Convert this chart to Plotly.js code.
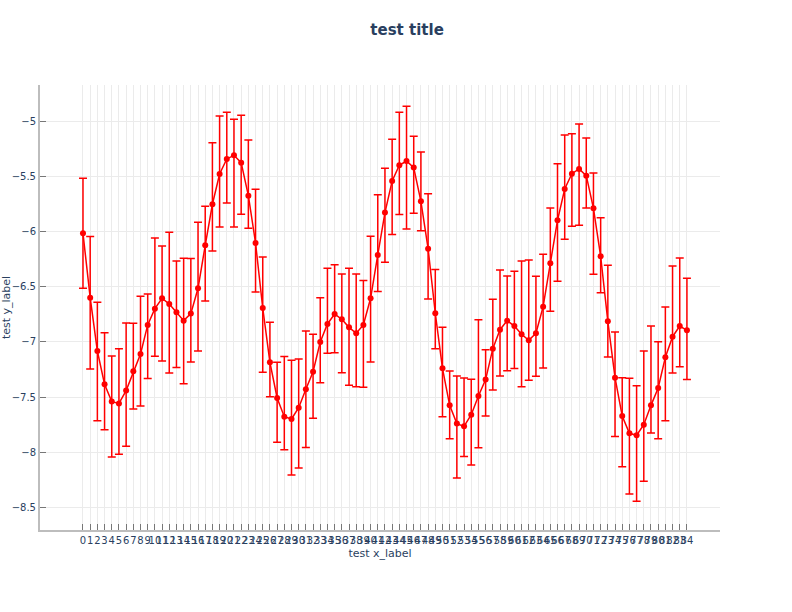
<!DOCTYPE html>
<html>
<head>
<meta charset="utf-8">
<script src="https://cdn.plot.ly/plotly-3.0.1.min.js"></script>
<style>html,body{margin:0;padding:0;background:#fff;}#chart{width:792px;height:612px;}</style>
</head>
<body>
<div id="chart"></div>
<script>
const xValues = [0,1,2,3,4,5,6,7,8,9,10,11,12,13,14,15,16,17,18,19,20,21,22,23,24,25,26,27,28,29,30,31,32,33,34,35,36,37,38,39,40,41,42,43,44,45,46,47,48,49,50,51,52,53,54,55,56,57,58,59,60,61,62,63,64,65,66,67,68,69,70,71,72,73,74,75,76,77,78,79,80,81,82,83,84];
const yValues = [-6.012,-6.597,-7.082,-7.385,-7.542,-7.558,-7.442,-7.267,-7.109,-6.845,
  -6.697,-6.603,-6.655,-6.730,-6.806,-6.742,-6.512,-6.121,-5.748,-5.473,
  -5.336,-5.303,-5.370,-5.670,-6.100,-6.691,-7.185,-7.509,-7.679,-7.700,
  -7.597,-7.430,-7.270,-7.000,-6.836,-6.745,-6.794,-6.867,-6.921,-6.845,
  -6.603,-6.209,-5.824,-5.536,-5.394,-5.355,-5.415,-5.721,-6.152,-6.739,
  -7.239,-7.576,-7.742,-7.767,-7.661,-7.491,-7.342,-7.061,-6.888,-6.806,
  -6.855,-6.930,-6.985,-6.921,-6.679,-6.285,-5.894,-5.609,-5.470,-5.427,
  -5.488,-5.785,-6.221,-6.812,-7.324,-7.673,-7.830,-7.848,-7.752,-7.576,
  -7.418,-7.139,-6.952,-6.855,-6.894];
const errorPlus = [0.500,0.555,0.443,0.470,0.415,0.497,0.615,0.437,0.524,0.281,
  0.642,0.476,0.652,0.466,0.567,0.500,0.600,0.354,0.560,0.528,
  0.424,0.327,0.431,0.506,0.488,0.464,0.364,0.324,0.546,0.533,
  0.442,0.530,0.340,0.403,0.506,0.448,0.412,0.537,0.539,0.403,
  0.564,0.548,0.403,0.378,0.482,0.497,0.285,0.448,0.500,0.397,
  0.372,0.312,0.433,0.440,0.322,0.694,0.272,0.449,0.543,0.406,
  0.497,0.666,0.730,0.518,0.476,0.503,0.515,0.491,0.364,0.409,
  0.343,0.321,0.351,0.509,0.415,0.349,0.500,0.451,0.670,0.721,
  0.421,0.457,0.643,0.619,0.473];
const errorMinus = [0.500,0.648,0.633,0.412,0.503,0.463,0.506,0.342,0.473,0.488,
  0.433,0.570,0.627,0.503,0.573,0.440,0.570,0.506,0.425,0.482,
  0.400,0.652,0.469,0.297,0.445,0.585,0.312,0.403,0.300,0.509,
  0.548,0.528,0.424,0.370,0.267,0.352,0.485,0.527,0.485,0.567,
  0.579,0.333,0.452,0.488,0.448,0.618,0.415,0.267,0.457,0.322,
  0.440,0.303,0.494,0.275,0.457,0.470,0.331,0.375,0.421,0.455,
  0.387,0.476,0.363,0.391,0.557,0.436,0.554,0.458,0.478,0.512,
  0.294,0.600,0.331,0.324,0.534,0.460,0.552,0.600,0.515,0.251,
  0.461,0.576,0.330,0.369,0.448];
const tickLabels = xValues.map(v => String(v));

const fontFamily = 'DejaVu Sans, sans-serif';
const textColor = '#2a3f5f';

const trace = {
  type: 'scatter',
  mode: 'lines+markers',
  x: xValues,
  y: yValues,
  line: {color: 'red', width: 1.5},
  marker: {color: 'red', size: 6},
  error_y: {
    type: 'data',
    symmetric: false,
    array: errorPlus,
    arrayminus: errorMinus,
    color: 'red',
    thickness: 1.5,
    width: 4
  },
  showlegend: false
};

const layout = {
  width: 792,
  height: 612,
  margin: {l: 40, r: 72, t: 85, b: 82},
  paper_bgcolor: '#ffffff',
  plot_bgcolor: '#ffffff',
  font: {family: fontFamily, size: 10, color: textColor},
  title: {
    text: '<b>test title</b>',
    font: {family: fontFamily, size: 15, color: textColor},
    x: 0.514, xref: 'container', xanchor: 'center',
    y: 0.951, yref: 'container', yanchor: 'middle'
  },
  xaxis: {
    title: {text: 'test x_label', font: {family: fontFamily, size: 11, color: textColor}, standoff: 4},
    range: [-5.98, 88.6],
    tickmode: 'array',
    tickvals: xValues,
    ticktext: tickLabels,
    tickangle: 0,
    ticks: 'inside',
    ticklen: 6,
    tickcolor: '#777777',
    tickwidth: 1,
    showline: true,
    linecolor: '#bdbdbd',
    linewidth: 2,
    showgrid: true,
    gridcolor: '#ebebeb',
    gridwidth: 1,
    zeroline: false,
    tickfont: {family: fontFamily, size: 10, color: textColor}
  },
  yaxis: {
    title: {text: 'test y_label', font: {family: fontFamily, size: 11, color: textColor}, standoff: 4},
    range: [-8.709, -4.664],
    tickmode: 'array',
    tickvals: [-8.5, -8, -7.5, -7, -6.5, -6, -5.5, -5],
    ticktext: ['\u22128.5', '\u22128', '\u22127.5', '\u22127', '\u22126.5', '\u22126', '\u22125.5', '\u22125'],
    ticks: 'inside',
    ticklen: 6,
    tickcolor: '#777777',
    tickwidth: 1,
    showline: true,
    linecolor: '#bdbdbd',
    linewidth: 2,
    showgrid: true,
    gridcolor: '#ebebeb',
    gridwidth: 1,
    zeroline: false,
    tickfont: {family: fontFamily, size: 10, color: textColor}
  }
};

Plotly.newPlot('chart', [trace], layout, {displayModeBar: false, responsive: false});
</script>
</body>
</html>
